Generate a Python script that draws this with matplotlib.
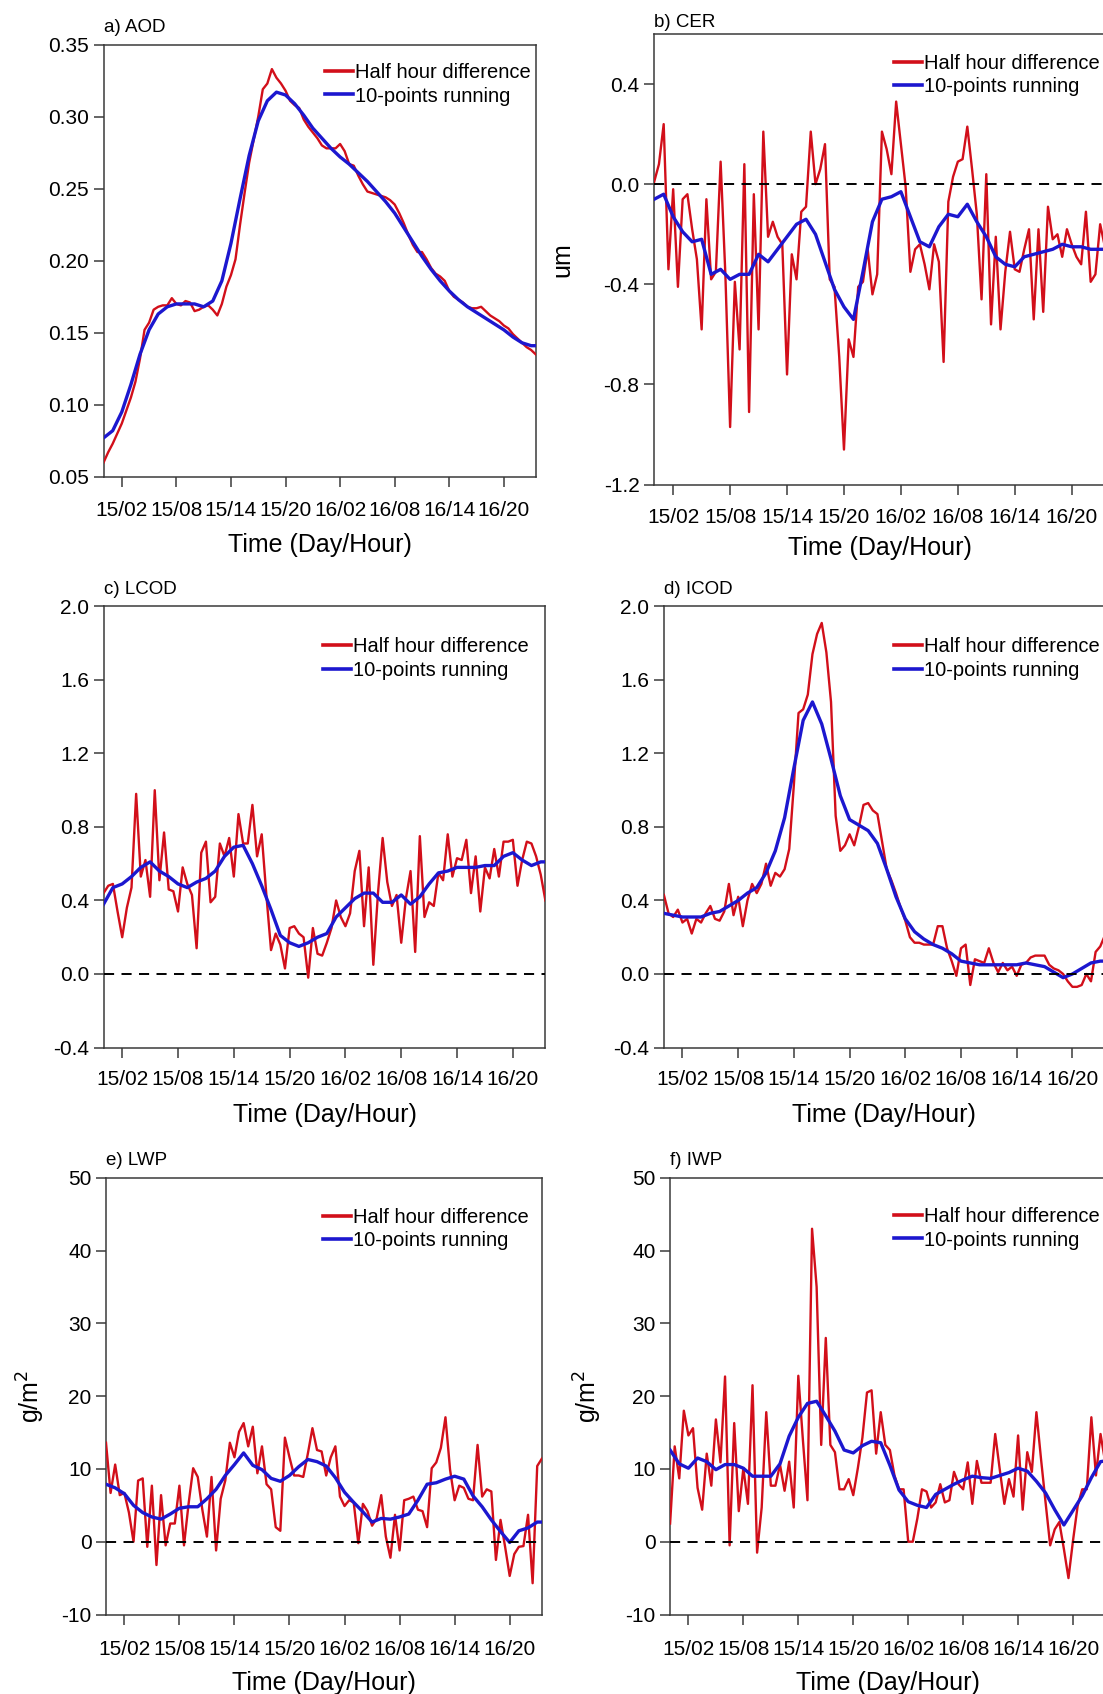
import numpy as np
import matplotlib
matplotlib.use('Agg')
import matplotlib.pyplot as plt
from matplotlib.ticker import FormatStrFormatter

plt.rcParams['font.family'] = ['Liberation Sans', 'DejaVu Sans']
plt.rcParams['axes.unicode_minus'] = False

# time axis: hours since 15/00, half-hourly for the differences, hourly for the running means
hours = np.arange(96) * 0.5
hours_run = np.r_[np.arange(48), 47.5]

tick_hours = [2, 8, 14, 20, 26, 32, 38, 44]
tick_labels = ['15/02', '15/08', '15/14', '15/20', '16/02', '16/08', '16/14', '16/20']

aod_diff = [
    0.060, 0.067, 0.073, 0.080, 0.087, 0.096, 0.105, 0.116, 0.132, 0.152, 0.157, 0.166,
    0.168, 0.169, 0.169, 0.174, 0.170, 0.169, 0.172, 0.171, 0.165, 0.166, 0.168, 0.169,
    0.166, 0.162, 0.170, 0.182, 0.190, 0.201, 0.225, 0.247, 0.268, 0.284, 0.300, 0.319,
    0.323, 0.333, 0.327, 0.323, 0.318, 0.311, 0.308, 0.306, 0.298, 0.293, 0.289, 0.285,
    0.280, 0.278, 0.278, 0.278, 0.281, 0.276, 0.267, 0.266, 0.259, 0.253, 0.248, 0.247,
    0.246, 0.245, 0.244, 0.242, 0.239, 0.233, 0.226, 0.218, 0.211, 0.206, 0.206, 0.201,
    0.195, 0.191, 0.189, 0.186, 0.179, 0.175, 0.173, 0.171, 0.168, 0.167, 0.167, 0.168,
    0.165, 0.162, 0.160, 0.158, 0.155, 0.153, 0.149, 0.146, 0.143, 0.140, 0.138, 0.135]
aod_run = [
    0.077, 0.082, 0.095, 0.114, 0.135, 0.152, 0.163, 0.168, 0.170, 0.170, 0.170, 0.168,
    0.172, 0.186, 0.212, 0.243, 0.273, 0.297, 0.311, 0.317, 0.315, 0.309, 0.301, 0.292,
    0.285, 0.278, 0.272, 0.267, 0.261, 0.255, 0.248, 0.241, 0.233, 0.223, 0.213, 0.203,
    0.194, 0.186, 0.179, 0.173, 0.168, 0.164, 0.160, 0.156, 0.152, 0.147, 0.143, 0.141,
    0.141]

cer_diff = [
    0.01, 0.08, 0.24, -0.34, -0.02, -0.41, -0.06, -0.04, -0.18, -0.30, -0.58, -0.06,
    -0.38, -0.35, 0.09, -0.36, -0.97, -0.39, -0.66, 0.08, -0.91, -0.04, -0.58, 0.21,
    -0.21, -0.15, -0.21, -0.24, -0.76, -0.28, -0.38, -0.11, -0.09, 0.21, 0.00, 0.06,
    0.16, -0.38, -0.41, -0.69, -1.06, -0.62, -0.69, -0.41, -0.39, -0.26, -0.44, -0.36,
    0.21, 0.14, 0.04, 0.33, 0.16, -0.01, -0.35, -0.26, -0.24, -0.32, -0.42, -0.24,
    -0.31, -0.71, -0.07, 0.03, 0.09, 0.10, 0.23, 0.06, -0.12, -0.46, 0.04, -0.56,
    -0.21, -0.58, -0.35, -0.19, -0.34, -0.35, -0.26, -0.18, -0.54, -0.18, -0.51, -0.09,
    -0.22, -0.20, -0.29, -0.18, -0.24, -0.29, -0.32, -0.11, -0.39, -0.36, -0.16, -0.25]
cer_run = [
    -0.06, -0.04, -0.13, -0.19, -0.23, -0.22, -0.36, -0.34, -0.38, -0.36, -0.36, -0.28,
    -0.31, -0.26, -0.21, -0.16, -0.14, -0.20, -0.31, -0.42, -0.49, -0.54, -0.35, -0.15,
    -0.06, -0.05, -0.03, -0.13, -0.23, -0.25, -0.17, -0.12, -0.13, -0.08, -0.15, -0.21,
    -0.29, -0.32, -0.33, -0.29, -0.28, -0.27, -0.26, -0.24, -0.25, -0.25, -0.26, -0.26,
    -0.26]

lcod_diff = [
    0.44, 0.48, 0.49, 0.34, 0.20, 0.36, 0.47, 0.98, 0.53, 0.62, 0.42, 1.00,
    0.51, 0.77, 0.46, 0.45, 0.34, 0.58, 0.49, 0.43, 0.14, 0.66, 0.72, 0.39,
    0.42, 0.71, 0.64, 0.74, 0.53, 0.87, 0.71, 0.71, 0.92, 0.64, 0.76, 0.43,
    0.13, 0.22, 0.16, 0.03, 0.25, 0.26, 0.22, 0.20, -0.02, 0.25, 0.11, 0.10,
    0.17, 0.25, 0.40, 0.31, 0.26, 0.33, 0.56, 0.67, 0.26, 0.58, 0.05, 0.44,
    0.74, 0.50, 0.37, 0.43, 0.17, 0.41, 0.56, 0.12, 0.75, 0.31, 0.39, 0.37,
    0.55, 0.51, 0.76, 0.53, 0.63, 0.62, 0.73, 0.44, 0.64, 0.34, 0.58, 0.52,
    0.68, 0.53, 0.72, 0.72, 0.73, 0.48, 0.62, 0.72, 0.71, 0.64, 0.54, 0.40]
lcod_run = [
    0.38, 0.47, 0.49, 0.53, 0.58, 0.61, 0.56, 0.53, 0.49, 0.47, 0.50, 0.52,
    0.56, 0.64, 0.69, 0.70, 0.60, 0.48, 0.35, 0.21, 0.17, 0.15, 0.17, 0.20,
    0.22, 0.31, 0.36, 0.41, 0.44, 0.44, 0.39, 0.39, 0.43, 0.38, 0.42, 0.49,
    0.55, 0.56, 0.58, 0.58, 0.58, 0.59, 0.59, 0.64, 0.66, 0.62, 0.59, 0.61,
    0.61]

icod_diff = [
    0.43, 0.33, 0.31, 0.35, 0.28, 0.30, 0.22, 0.30, 0.28, 0.33, 0.37, 0.30,
    0.29, 0.34, 0.49, 0.32, 0.42, 0.26, 0.40, 0.49, 0.44, 0.49, 0.60, 0.48,
    0.55, 0.53, 0.57, 0.68, 1.03, 1.42, 1.44, 1.52, 1.74, 1.85, 1.91, 1.75,
    1.48, 0.86, 0.67, 0.70, 0.76, 0.70, 0.80, 0.92, 0.93, 0.89, 0.87, 0.72,
    0.57, 0.51, 0.44, 0.36, 0.29, 0.20, 0.17, 0.17, 0.16, 0.16, 0.16, 0.26,
    0.26, 0.14, 0.07, -0.01, 0.14, 0.16, -0.06, 0.08, 0.07, 0.06, 0.14, 0.06,
    0.01, 0.06, 0.02, 0.04, -0.01, 0.05, 0.06, 0.09, 0.10, 0.10, 0.10, 0.05,
    0.03, 0.02, 0.00, -0.04, -0.07, -0.07, -0.06, 0.00, -0.04, 0.12, 0.15, 0.21]
icod_run = [
    0.33, 0.32, 0.31, 0.31, 0.31, 0.33, 0.34, 0.37, 0.40, 0.44, 0.47, 0.55,
    0.67, 0.85, 1.12, 1.38, 1.48, 1.36, 1.17, 0.97, 0.84, 0.81, 0.78, 0.71,
    0.57, 0.42, 0.30, 0.23, 0.19, 0.16, 0.14, 0.11, 0.07, 0.06, 0.05, 0.05,
    0.05, 0.05, 0.05, 0.06, 0.05, 0.04, 0.01, -0.02, 0.00, 0.03, 0.06, 0.07,
    0.07]

lwp_diff = [
    13.6, 6.7, 10.6, 6.4, 6.7, 4.0, 0.0, 8.4, 8.7, -0.7, 7.7, -3.2,
    6.4, -0.5, 2.5, 2.5, 7.7, -0.5, 5.2, 10.1, 8.9, 4.4, 0.7, 8.9,
    -1.2, 5.9, 8.4, 13.6, 11.6, 15.1, 16.3, 13.1, 15.8, 9.4, 13.1, 7.9,
    7.2, 2.0, 1.5, 14.3, 11.6, 9.1, 9.1, 8.9, 12.1, 15.6, 12.6, 12.4,
    9.1, 11.6, 13.1, 6.2, 4.9, 5.7, 5.4, -0.2, 5.2, 4.2, 2.2, 3.2,
    6.4, 0.7, -2.2, 3.7, -1.2, 5.7, 5.9, 6.2, 4.4, 4.2, 2.0, 10.1,
    10.9, 12.9, 17.1, 9.9, 5.7, 7.7, 7.4, 5.9, 5.7, 13.3, 6.2, 7.2,
    6.9, -2.5, 3.0, -0.7, -4.7, -1.7, -0.7, -0.6, 3.7, -5.7, 10.4, 11.4]
lwp_run = [
    7.9, 7.4, 6.6, 5.0, 4.0, 3.4, 3.1, 3.8, 4.6, 4.8, 4.8, 5.9,
    7.2, 9.1, 10.6, 12.2, 10.5, 9.9, 8.7, 8.3, 9.1, 10.3, 11.3, 11.0,
    10.4, 8.8, 6.8, 5.4, 4.1, 2.7, 3.2, 3.1, 3.4, 3.8, 5.7, 7.9,
    8.1, 8.6, 9.0, 8.6, 6.3, 4.8, 3.0, 1.4, -0.1, 1.5, 1.9, 2.7,
    2.7]

iwp_diff = [
    2.5, 13.1, 8.7, 18.0, 14.6, 15.6, 7.4, 4.4, 12.1, 7.7, 16.8, 10.9,
    22.7, -0.5, 16.3, 4.2, 10.1, 5.2, 21.5, -1.5, 4.7, 17.8, 7.7, 7.7,
    10.6, 7.0, 11.0, 4.7, 22.8, 14.0, 5.7, 43.0, 35.0, 13.3, 28.0, 13.3,
    12.3, 7.2, 7.2, 8.6, 6.4, 10.1, 14.3, 20.5, 20.8, 12.1, 17.8, 13.3,
    12.6, 9.1, 7.2, 7.2, 0.0, 0.0, 3.2, 7.2, 6.9, 4.7, 5.4, 7.9,
    5.4, 5.7, 9.6, 7.9, 7.2, 10.9, 5.2, 11.1, 8.1, 8.1, 8.1, 14.8,
    9.9, 5.2, 8.6, 6.2, 14.6, 4.4, 12.3, 9.6, 17.8, 11.4, 5.4, -0.5,
    1.7, 2.7, -1.0, -5.0, 0.2, 4.9, 7.2, 7.2, 17.1, 9.1, 14.8, 11.0]
iwp_run = [
    12.6, 10.7, 10.1, 11.5, 11.0, 9.9, 10.6, 10.6, 10.1, 9.0, 9.0, 9.0,
    10.7, 14.5, 17.1, 19.0, 19.3, 17.3, 15.2, 12.6, 12.2, 13.2, 13.8, 13.6,
    10.5, 7.1, 5.5, 5.0, 4.7, 6.5, 7.2, 7.9, 8.5, 9.0, 8.8, 8.7,
    9.1, 9.5, 10.1, 9.7, 8.3, 6.7, 4.4, 2.3, 4.3, 6.3, 8.8, 11.0,
    11.1]

FIG_W, FIG_H = 1103, 1694
RED = '#d20f1a'
BLUE = '#1c17cf'

# (title, diff, running, ylim, yticks, tick format, ylabel,
#  axes box in px (left, top, width, height), legend handle x (axes frac),
#  legend first-row offset below top in px, ylabel x (axes frac), zero line,
#  title pad, x tick pad, xlabel pad)
panels = [
    ('a) AOD', aod_diff, aod_run, (0.05, 0.35), np.arange(0.05, 0.351, 0.05), '%.2f', None,
     (103.6, 44.6, 432.1, 432.2), 0.512, 30.5, None, False, 9.0, 10.5, 9.5),
    ('b) CER', cer_diff, cer_run, (-1.2, 0.6), np.arange(-1.2, 0.41, 0.4), '%.1f', 'um',
     (654.2, 34.0, 450.7, 450.6), 0.532, 32.0, -0.178, True, 4.8, 9.5, 7.0),
    ('c) LCOD', lcod_diff, lcod_run, (-0.4, 2.0), np.arange(-0.4, 2.01, 0.4), '%.1f', None,
     (103.6, 606.4, 441.8, 441.1), 0.497, 42.8, None, True, 9.0, 9.5, 9.5),
    ('d) ICOD', icod_diff, icod_run, (-0.4, 2.0), np.arange(-0.4, 2.01, 0.4), '%.1f', None,
     (663.9, 606.4, 441.0, 441.1), 0.522, 42.8, None, True, 9.0, 9.5, 9.5),
    ('e) LWP', lwp_diff, lwp_run, (-10, 50), np.arange(-10, 51, 10), '%d', 'g/m$^2$',
     (106.0, 1177.8, 435.8, 436.7), 0.498, 42.0, -0.135, True, 9.0, 11.5, 8.5),
    ('f) IWP', iwp_diff, iwp_run, (-10, 50), np.arange(-10, 51, 10), '%d', 'g/m$^2$',
     (670.1, 1177.8, 435.0, 436.7), 0.515, 41.3, -0.151, True, 9.0, 11.5, 8.5),
]

fig = plt.figure(figsize=(FIG_W / 100, FIG_H / 100), dpi=100)

for (title, diff, run, ylim, yticks, fmt, ylabel, box, leg_x, leg_off,
     ylab_x, zero, title_pad, xtick_pad, xlab_pad) in panels:
    left, top, w, h = box
    ax = fig.add_axes([left / FIG_W, 1 - (top + h) / FIG_H, w / FIG_W, h / FIG_H])

    ax.plot(hours, diff, color=RED, lw=1.7, label='Half hour difference', zorder=3)
    ax.plot(hours_run, run, color=BLUE, lw=2.4, label='10-points running', zorder=4)
    if zero:
        ax.axhline(0, color='k', lw=1.4, ls=(0, (5.2, 3.8)), zorder=5)

    ax.set_xlim(0, 47.5)
    ax.set_ylim(*ylim)
    ax.set_xticks(tick_hours)
    ax.set_xticklabels(tick_labels)
    ax.set_yticks(yticks)
    ax.yaxis.set_major_formatter(FormatStrFormatter(fmt))

    for sp in ax.spines.values():
        sp.set_color('#3a3a3a')
        sp.set_linewidth(1.1)
    ax.tick_params(direction='out', length=7, width=1.1, color='#3a3a3a',
                   top=False, right=False, labelsize=15)
    ax.tick_params(axis='x', pad=xtick_pad)
    ax.tick_params(axis='y', pad=3.5)

    ax.set_title(title, loc='left', fontsize=13.5, pad=title_pad)
    ax.set_xlabel('Time (Day/Hour)', fontsize=18, labelpad=xlab_pad)
    if ylabel:
        ax.set_ylabel(ylabel, fontsize=18)
        ax.yaxis.set_label_coords(ylab_x, 0.5)

    leg = ax.legend(loc='upper left', bbox_to_anchor=(leg_x, 1 - (leg_off - 12) / h),
                    frameon=False, fontsize=14.5, handlelength=1.4, handletextpad=0.1,
                    labelspacing=0.22, borderpad=0, borderaxespad=0)
    # legend keys are drawn a bit heavier than the data lines
    for line in leg.get_lines():
        line.set_linewidth(2.6)

fig.savefig('out.png', dpi=100)
